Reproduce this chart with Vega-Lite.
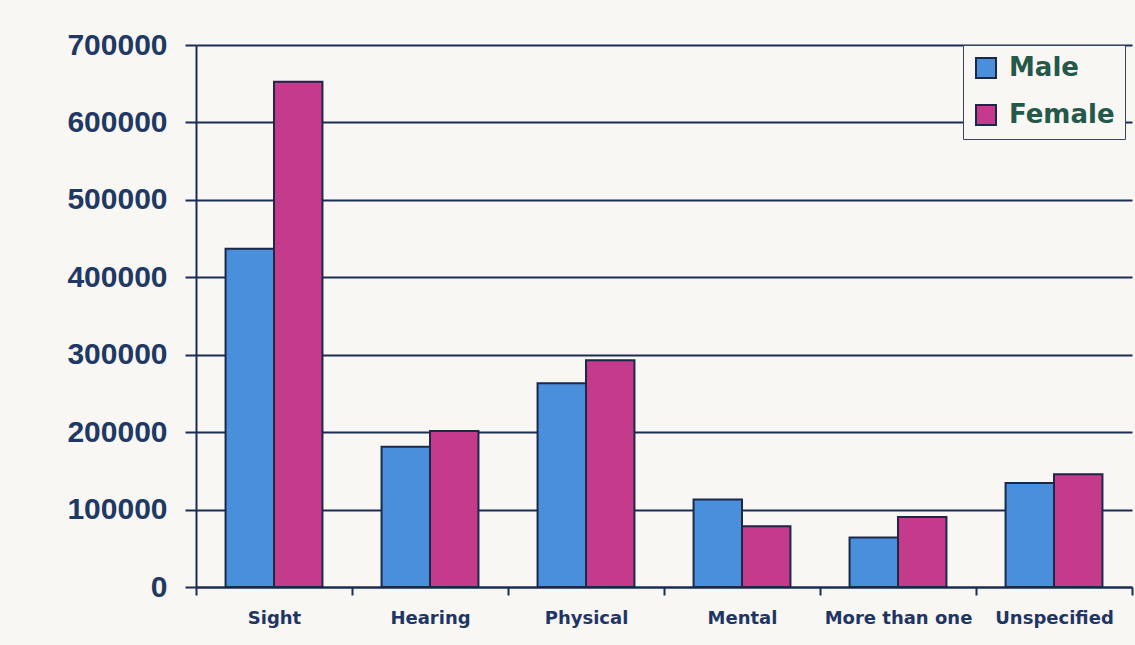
{
  "$schema": "https://vega.github.io/schema/vega-lite/v6.json",
  "width": 936,
  "height": 542,
  "autosize": {"type": "none"},
  "padding": {"left": 196, "top": 45, "right": 3, "bottom": 58},
  "background": "#f8f7f4",
  "config": {
    "view": {"stroke": null},
    "font": "Liberation Sans"
  },
  "data": {
    "values": [
      {"type": "Sight", "sex": "Male", "count": 437000},
      {"type": "Sight", "sex": "Female", "count": 652500},
      {"type": "Hearing", "sex": "Male", "count": 181000},
      {"type": "Hearing", "sex": "Female", "count": 201600},
      {"type": "Physical", "sex": "Male", "count": 263000},
      {"type": "Physical", "sex": "Female", "count": 293000},
      {"type": "Mental", "sex": "Male", "count": 113000},
      {"type": "Mental", "sex": "Female", "count": 78400},
      {"type": "More than one", "sex": "Male", "count": 63800},
      {"type": "More than one", "sex": "Female", "count": 90500},
      {"type": "Unspecified", "sex": "Male", "count": 134400},
      {"type": "Unspecified", "sex": "Female", "count": 145600}
    ]
  },
  "mark": {"type": "bar", "stroke": "#1b2847", "strokeWidth": 2},
  "encoding": {
    "x": {
      "field": "type",
      "type": "nominal",
      "sort": ["Sight", "Hearing", "Physical", "Mental", "More than one", "Unspecified"],
      "scale": {"paddingInner": 0, "paddingOuter": 0},
      "axis": {
        "title": null,
        "labelAngle": 0,
        "labelFont": "DejaVu Sans",
        "labelFontSize": 18,
        "labelFontWeight": "bold",
        "labelColor": "#1f3564",
        "labelPadding": 14,
        "tickBand": "extent",
        "tickSize": 8,
        "tickWidth": 2,
        "tickColor": "#1b2d55",
        "domainColor": "#1b2d55",
        "domainWidth": 2
      }
    },
    "xOffset": {
      "field": "sex",
      "type": "nominal",
      "sort": ["Male", "Female"],
      "scale": {"paddingInner": 0, "paddingOuter": 0.61}
    },
    "y": {
      "field": "count",
      "type": "quantitative",
      "scale": {"domain": [0, 700000]},
      "axis": {
        "title": null,
        "values": [0, 100000, 200000, 300000, 400000, 500000, 600000, 700000],
        "format": "d",
        "labelFontSize": 30,
        "labelFontWeight": "bold",
        "labelColor": "#1f3864",
        "labelPadding": 18,
        "tickSize": 11,
        "tickWidth": 2,
        "tickColor": "#1b2d55",
        "domainColor": "#1b2d55",
        "domainWidth": 2,
        "grid": true,
        "gridColor": "#1b2d55",
        "gridWidth": 2
      }
    },
    "color": {
      "field": "sex",
      "type": "nominal",
      "sort": ["Male", "Female"],
      "scale": {"domain": ["Male", "Female"], "range": ["#4a8fdc", "#c43b8c"]},
      "legend": {
        "title": null,
        "orient": "none",
        "legendX": 767,
        "legendY": 0,
        "labelFont": "DejaVu Sans",
        "labelFontSize": 26,
        "labelFontWeight": "bold",
        "labelColor": "#245848",
        "labelOffset": 10,
        "symbolType": "square",
        "symbolSize": 400,
        "symbolStrokeColor": "#1b2847",
        "symbolStrokeWidth": 2,
        "symbolOpacity": 1,
        "padding": 10,
        "rowPadding": 19,
        "fillColor": "#f8f7f4",
        "strokeColor": "#3a4560"
      }
    }
  }
}
